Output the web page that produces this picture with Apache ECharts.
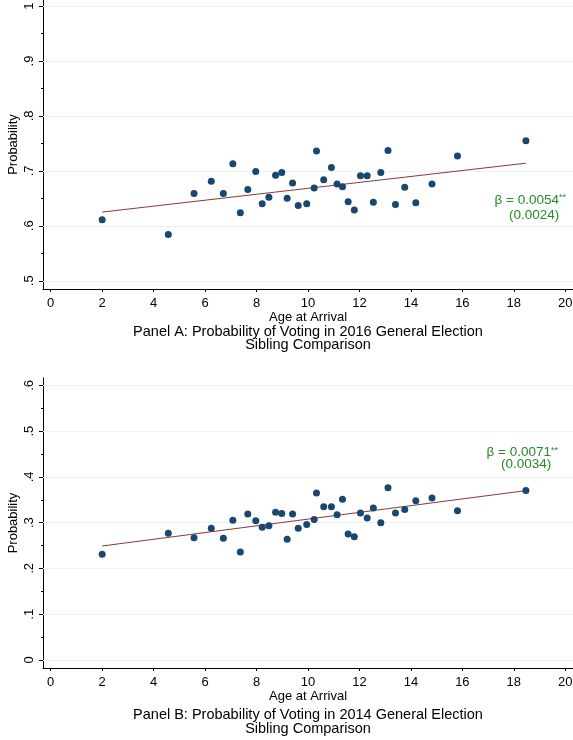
<!DOCTYPE html>
<html>
<head>
<meta charset="utf-8">
<script src="https://cdn.jsdelivr.net/npm/echarts@6/dist/echarts.min.js"></script>
<style>
  html, body { margin: 0; padding: 0; background: #fff; }
  #main { width: 573px; height: 740px; }
</style>
</head>
<body>
<div id="main"></div>
<script>
  // age at arrival (sibling comparison bins)
  const ages = [2.0, 4.57, 5.57, 6.24, 6.71, 7.08, 7.37, 7.66, 7.97, 8.22, 8.48, 8.74, 8.98, 9.19, 9.40, 9.62, 9.95, 10.24, 10.33, 10.61, 10.91, 11.13, 11.34, 11.56, 11.80, 12.04, 12.30, 12.54, 12.83, 13.11, 13.40, 13.76, 14.19, 14.82, 15.81, 18.47];
  const vote2016 = [0.611, 0.584, 0.659, 0.681, 0.659, 0.713, 0.624, 0.666, 0.699, 0.640, 0.652, 0.692, 0.697, 0.650, 0.678, 0.637, 0.640, 0.669, 0.736, 0.684, 0.706, 0.676, 0.671, 0.644, 0.629, 0.691, 0.691, 0.643, 0.697, 0.737, 0.639, 0.670, 0.642, 0.676, 0.727, 0.755];
  const vote2014 = [0.231, 0.277, 0.267, 0.288, 0.266, 0.305, 0.236, 0.319, 0.304, 0.290, 0.293, 0.323, 0.320, 0.264, 0.319, 0.288, 0.296, 0.307, 0.365, 0.335, 0.335, 0.317, 0.351, 0.275, 0.269, 0.321, 0.310, 0.332, 0.300, 0.376, 0.321, 0.329, 0.348, 0.354, 0.326, 0.370];
  // fitted line end points
  const fitX = [2.0, 18.47];
  const fit2016 = [0.625, 0.714];
  const fit2014 = [0.249, 0.370];
  // tick labels
  const xTicks = [0, 2, 4, 6, 8, 10, 12, 14, 16, 18, 20];
  const yTicksA = [0.5, 0.6, 0.7, 0.8, 0.9, 1];
  const yMinorA = [0.55, 0.65, 0.75, 0.85, 0.95];
  const yTicksB = [0, 0.1, 0.2, 0.3, 0.4, 0.5, 0.6];
  const yMinorB = [0.05, 0.15, 0.25, 0.35, 0.45, 0.55];

  const FONT = 'Liberation Sans';
  const navy = '#1a476f';
  const maroon = '#90353b';
  const green = '#228b22';
  const gridColor = '#eaf2f3';

  const chart = echarts.init(document.getElementById('main'));

  function yLabel(v) {
    if (v === 0) return '0';
    if (v === 1) return '1';
    return String(v).replace(/^0\./, '.');
  }

  function xAxisFor(idx) {
    return {
      type: 'value',
      gridIndex: idx,
      min: -0.3,
      max: 20.3,
      name: 'Age at Arrival',
      nameLocation: 'middle',
      nameGap: 21,
      nameTextStyle: { fontFamily: FONT, fontSize: 13, color: '#000' },
      axisLine: { show: true, onZero: false, lineStyle: { color: '#000', width: 1 } },
      axisTick: { show: true, length: 3, customValues: xTicks, lineStyle: { color: '#000' } },
      axisLabel: { customValues: xTicks, fontFamily: FONT, fontSize: 13, color: '#000', margin: 8 },
      splitLine: { show: false }
    };
  }

  function yAxisFor(idx, min, max, ticks) {
    return {
      type: 'value',
      gridIndex: idx,
      min: min,
      max: max,
      name: 'Probability',
      nameLocation: 'middle',
      nameGap: 23.5,
      nameMoveOverlap: false,
      nameTextStyle: { fontFamily: FONT, fontSize: 13, color: '#000' },
      axisLine: { show: true, onZero: false, lineStyle: { color: '#000', width: 1 } },
      axisTick: { show: true, length: 4, customValues: ticks, lineStyle: { color: '#000' } },
      axisLabel: {
        customValues: ticks,
        rotate: 90,
        fontFamily: FONT, fontSize: 13, color: '#000', margin: 7,
        formatter: yLabel
      },
      splitLine: { show: false }
    };
  }

  function minorAxisFor(idx, min, max, ticks) {
    return {
      type: 'value',
      gridIndex: idx,
      min: min,
      max: max,
      position: 'left',
      axisLine: { show: false, onZero: false },
      axisTick: { show: true, length: 2, customValues: ticks, lineStyle: { color: '#000' } },
      axisLabel: { show: false },
      splitLine: { show: false }
    };
  }

  // light horizontal grid at the labelled values, kept under the marks
  function gridSeries(idx, ticks) {
    return {
      type: 'line', xAxisIndex: idx, yAxisIndex: idx,
      data: [], z: 1, silent: true,
      markLine: {
        z: 1,
        silent: true,
        symbol: 'none',
        label: { show: false },
        lineStyle: { color: gridColor, width: 1, type: 'solid' },
        data: ticks.map(v => ({ yAxis: v }))
      }
    };
  }

  function pts(ys) {
    return ages.map((a, i) => [a, ys[i]]);
  }

  function scatterSeries(idx, ys) {
    return {
      type: 'scatter', xAxisIndex: idx, yAxisIndex: idx,
      symbolSize: 7, itemStyle: { color: navy, opacity: 1 },
      data: pts(ys),
      z: 3
    };
  }

  function fitSeries(idx, ys) {
    return {
      type: 'line', xAxisIndex: idx, yAxisIndex: idx,
      symbol: 'none', lineStyle: { color: maroon, width: 1 },
      data: fitX.map((x, i) => [x, ys[i]]),
      z: 2
    };
  }

  const titleStyle = {
    fontFamily: FONT, fontSize: 14.5, lineHeight: 13.5, fill: '#000',
    align: 'center', verticalAlign: 'middle'
  };

  chart.setOption({
    animation: false,
    backgroundColor: '#fff',
    grid: [
      { left: 43, top: 0, width: 530, height: 289, outerBoundsMode: 'none', containLabel: false },
      { left: 43, top: 378, width: 530, height: 290, outerBoundsMode: 'none', containLabel: false }
    ],
    xAxis: [xAxisFor(0), xAxisFor(1)],
    yAxis: [
      yAxisFor(0, 0.485, 1.011, yTicksA),
      yAxisFor(1, -0.0175, 0.616, yTicksB),
      minorAxisFor(0, 0.485, 1.011, yMinorA),
      minorAxisFor(1, -0.0175, 0.616, yMinorB)
    ],
    series: [
      gridSeries(0, yTicksA),
      fitSeries(0, fit2016),
      scatterSeries(0, vote2016),
      gridSeries(1, yTicksB),
      fitSeries(1, fit2014),
      scatterSeries(1, vote2014)
    ],
    graphic: [
      {
        type: 'text', x: 308, y: 338.5,
        style: Object.assign({ text: 'Panel A: Probability of Voting in 2016 General Election\nSibling Comparison' }, titleStyle)
      },
      {
        type: 'text', x: 308, y: 722,
        style: Object.assign({ text: 'Panel B: Probability of Voting in 2014 General Election\nSibling Comparison' }, titleStyle)
      },
      {
        type: 'text', x: 566, y: 208,
        style: {
          text: '{b|β = 0.0054}{s|**}\n{b|(0.0024)}  ',
          align: 'right', verticalAlign: 'middle',
          rich: {
            b: { fontFamily: FONT, fontSize: 13.5, lineHeight: 15, fill: green },
            s: { fontFamily: FONT, fontSize: 9, lineHeight: 15, fill: green, verticalAlign: 'top', padding: [0, 0, 4, 0] }
          }
        }
      },
      {
        type: 'text', x: 558, y: 458,
        style: {
          text: '{b|β = 0.0071}{s|**}\n{b|(0.0034)}  ',
          align: 'right', verticalAlign: 'middle',
          rich: {
            b: { fontFamily: FONT, fontSize: 13.5, lineHeight: 12, fill: green },
            s: { fontFamily: FONT, fontSize: 9, lineHeight: 12, fill: green, verticalAlign: 'top', padding: [0, 0, 4, 0] }
          }
        }
      }
    ]
  });
</script>
</body>
</html>
